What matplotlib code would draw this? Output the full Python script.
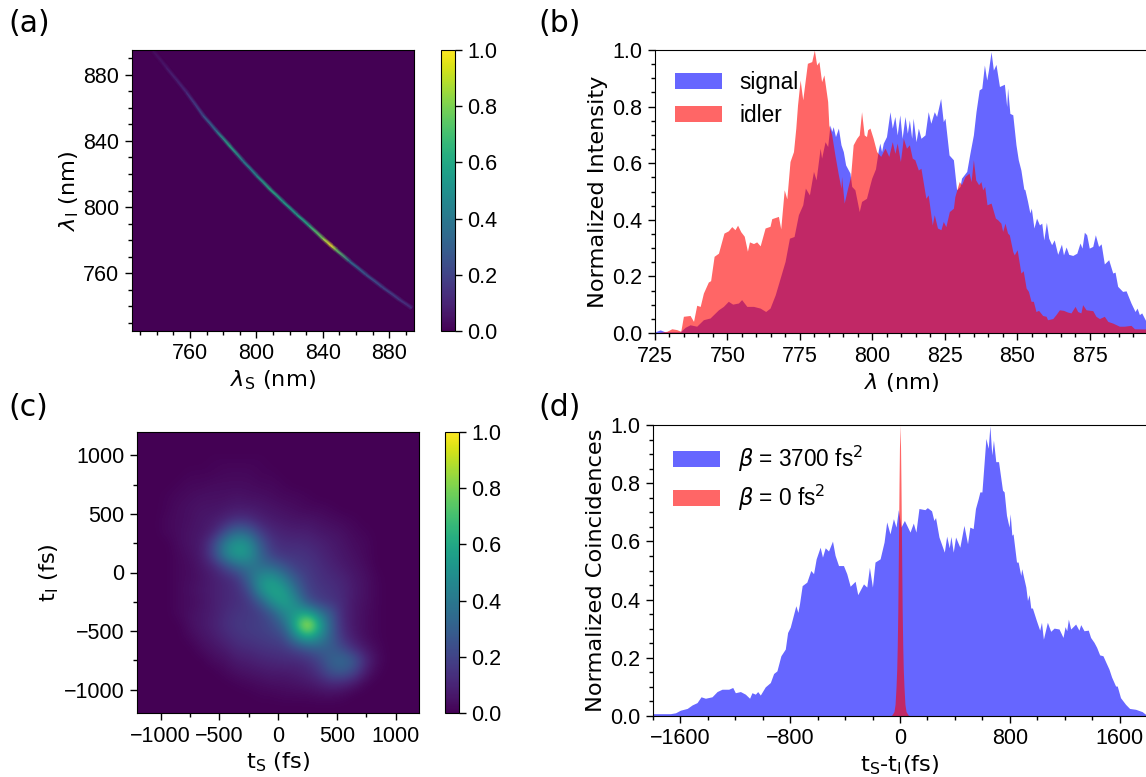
import matplotlib
matplotlib.use("Agg")
import matplotlib.pyplot as plt
import numpy as np
from matplotlib.ticker import MultipleLocator

# (a) joint spectrum ridge
ridge_s = [737.7, 745.7, 757.8, 767.8, 775.9, 783.9, 792.0, 800.0, 808.0, 816.0,
           824.0, 832.0, 840.0, 845.0, 848.0, 856.0, 866.0, 876.0, 886.4, 893.5]
ridge_i = [894.5, 884.5, 869.5, 855.5, 846.0, 837.0, 827.8, 819.2, 811.0, 803.3,
           795.8, 788.6, 781.1, 776.7, 774.1, 767.3, 759.2, 751.5, 743.9, 739.0]
ridge_val = [0.03, 0.07, 0.12, 0.24, 0.38, 0.62, 0.42, 0.48, 0.62, 0.56,
             0.56, 0.62, 0.8, 1.0, 0.78, 0.38, 0.27, 0.22, 0.17, 0.13]

# (b) spectra
signal_nm = [725.0, 726.8, 728.5, 733.7, 735.4, 737.1, 739.4, 741.7, 744.0, 746.9, 748.6, 750.3,
             751.8, 753.8, 754.9, 756.7, 759.0, 761.3, 763.2, 764.7, 766.5, 768.2, 769.9, 771.4,
             773.0, 774.5, 776.0, 776.9, 778.3, 779.7, 780.6, 782.0, 782.5, 783.7, 784.6, 785.4,
             786.0, 786.5, 787.3, 788.3, 789.2, 790.0, 790.8, 792.3, 792.9, 794.0, 795.5, 796.3,
             798.0, 799.2, 799.8, 801.1, 802.1, 802.6, 803.2, 803.8, 804.9, 806.1, 806.9, 807.8,
             808.6, 809.5, 810.3, 811.3, 812.1, 812.8, 813.6, 814.1, 815.1, 815.9, 816.8, 818.2,
             819.3, 820.2, 821.4, 822.2, 823.6, 824.5, 825.1, 826.5, 828.0, 829.1, 830.3, 830.8,
             832.6, 833.7, 834.9, 835.8, 836.9, 837.8, 838.7, 839.5, 840.1, 841.0, 841.8, 842.7,
             843.9, 845.6, 846.4, 846.7, 847.5, 848.5, 849.6, 850.4, 851.3, 852.3, 852.7, 853.6,
             854.4, 854.9, 855.8, 856.7, 857.7, 858.5, 859.2, 860.1, 860.9, 861.9, 862.8, 864.0,
             865.3, 866.0, 866.9, 867.8, 869.2, 870.6, 871.7, 872.4, 873.2, 874.0, 874.9, 876.1,
             877.0, 878.1, 879.0, 880.1, 881.6, 883.0, 883.8, 884.7, 886.4, 887.6, 889.3, 890.7,
             891.4, 892.2, 893.0, 894.5, 895.0]
signal_val = [0.004, 0.011, 0.004, 0.004, 0.02, 0.029, 0.024, 0.047, 0.053, 0.082, 0.094, 0.112,
              0.102, 0.106, 0.118, 0.094, 0.094, 0.088, 0.076, 0.088, 0.135, 0.194, 0.253, 0.335,
              0.341, 0.418, 0.453, 0.512, 0.488, 0.571, 0.541, 0.653, 0.618, 0.676, 0.659, 0.735,
              0.712, 0.729, 0.694, 0.724, 0.665, 0.641, 0.594, 0.565, 0.518, 0.506, 0.429, 0.465,
              0.476, 0.524, 0.547, 0.58, 0.647, 0.671, 0.641, 0.671, 0.694, 0.782, 0.724, 0.765,
              0.7, 0.771, 0.688, 0.765, 0.706, 0.753, 0.688, 0.759, 0.676, 0.724, 0.688, 0.7,
              0.782, 0.741, 0.782, 0.765, 0.829, 0.747, 0.759, 0.629, 0.612, 0.506, 0.518, 0.547,
              0.571, 0.635, 0.7, 0.782, 0.859, 0.865, 0.947, 0.894, 0.929, 0.994, 0.929, 0.949,
              0.871, 0.879, 0.8, 0.865, 0.776, 0.771, 0.665, 0.612, 0.576, 0.509, 0.506, 0.465,
              0.424, 0.441, 0.371, 0.406, 0.382, 0.388, 0.329, 0.391, 0.335, 0.312, 0.329, 0.278,
              0.314, 0.276, 0.304, 0.278, 0.274, 0.282, 0.318, 0.3, 0.356, 0.347, 0.3, 0.306,
              0.347, 0.306, 0.315, 0.244, 0.259, 0.212, 0.215, 0.165, 0.147, 0.149, 0.106, 0.076,
              0.088, 0.065, 0.071, 0.041, 0.038]
idler_nm = [725.0, 729.1, 730.8, 732.5, 733.9, 734.8, 737.1, 738.3, 739.4, 740.6, 741.7, 743.4,
            744.2, 745.4, 746.9, 747.7, 748.8, 750.3, 751.5, 752.6, 753.5, 754.6, 755.8, 756.9,
            757.6, 759.0, 760.1, 761.3, 763.0, 764.7, 765.3, 767.6, 768.4, 769.6, 770.5, 771.6,
            772.8, 773.6, 774.2, 775.1, 776.0, 777.6, 779.1, 780.0, 780.8, 781.6, 782.5, 783.3,
            784.6, 785.0, 786.0, 787.1, 788.3, 789.2, 789.4, 790.3, 791.5, 792.5, 793.4, 794.6,
            795.5, 796.3, 797.2, 798.0, 798.4, 799.2, 800.3, 801.5, 802.9, 804.4, 805.7, 806.9,
            807.8, 808.6, 809.7, 810.7, 811.8, 812.8, 813.8, 814.7, 815.9, 816.8, 818.5, 819.3,
            820.7, 821.4, 822.5, 823.7, 824.5, 825.4, 826.6, 828.0, 828.5, 830.0, 830.8, 832.0,
            833.4, 834.1, 834.9, 835.7, 836.7, 837.5, 838.1, 838.8, 839.6, 841.0, 842.5, 843.3,
            844.4, 845.0, 845.8, 846.7, 847.3, 848.5, 849.0, 850.0, 851.3, 852.1, 853.1, 853.9,
            854.8, 855.6, 856.5, 857.4, 858.8, 860.0, 860.5, 862.3, 863.4, 864.6, 866.0, 867.4,
            868.6, 870.0, 870.9, 872.0, 872.6, 873.8, 876.1, 877.2, 878.4, 880.1, 881.3, 883.0,
            885.3, 887.0, 889.3, 890.5, 895.0]
idler_val = [0.0, 0.006, 0.015, 0.012, 0.006, 0.059, 0.062, 0.041, 0.098, 0.094, 0.141, 0.18,
             0.185, 0.271, 0.282, 0.312, 0.353, 0.361, 0.376, 0.365, 0.381, 0.358, 0.342, 0.289,
             0.322, 0.316, 0.322, 0.308, 0.371, 0.377, 0.404, 0.412, 0.368, 0.506, 0.474, 0.606,
             0.641, 0.724, 0.806, 0.894, 0.824, 0.953, 0.959, 1.0, 0.947, 0.959, 0.888, 0.912,
             0.818, 0.735, 0.7, 0.629, 0.559, 0.512, 0.553, 0.459, 0.512, 0.553, 0.665, 0.688,
             0.7, 0.782, 0.7, 0.694, 0.718, 0.724, 0.688, 0.641, 0.624, 0.653, 0.624, 0.676,
             0.635, 0.671, 0.606, 0.688, 0.653, 0.665, 0.618, 0.612, 0.576, 0.582, 0.476, 0.488,
             0.382, 0.418, 0.371, 0.365, 0.394, 0.376, 0.429, 0.441, 0.482, 0.535, 0.524, 0.553,
             0.565, 0.535, 0.612, 0.541, 0.524, 0.535, 0.506, 0.518, 0.453, 0.459, 0.406, 0.4,
             0.388, 0.359, 0.388, 0.353, 0.347, 0.288, 0.276, 0.294, 0.212, 0.22, 0.159, 0.147,
             0.112, 0.112, 0.076, 0.08, 0.062, 0.059, 0.047, 0.051, 0.065, 0.082, 0.08, 0.074,
             0.071, 0.094, 0.076, 0.071, 0.1, 0.082, 0.079, 0.059, 0.051, 0.059, 0.041, 0.035,
             0.024, 0.024, 0.027, 0.015, 0.014]

# (c) temporal correlation, rows from t_I = 1150 down to -1150 fs, columns t_S = -1150 to 1150
corr_rows = [
    [0] * 24,
    [0] * 24,
    [0, 0, 0, 0, 0, 0, .01, .01, .01, .01, .01, 0, 0, 0, 0, 0, 0, 0, 0, 0, 0, 0, 0, 0],
    [0, 0, 0, 0, .01, .01, .01, .02, .02, .02, .01, .01, 0, 0, 0, 0, 0, 0, 0, 0, 0, 0, 0, 0],
    [0, 0, 0, .01, .02, .02, .03, .03, .03, .03, .02, .02, .01, 0, 0, 0, 0, 0, 0, 0, 0, 0, 0, 0],
    [0, 0, .01, .02, .03, .04, .04, .04, .05, .04, .04, .03, .02, .02, .01, 0, 0, 0, 0, 0, 0, 0, 0, 0],
    [0, 0, .01, .03, .04, .05, .05, .06, .07, .07, .06, .05, .04, .03, .02, .02, .01, 0, 0, 0, 0, 0, 0, 0],
    [0, 0, .02, .03, .04, .06, .07, .1, .14, .13, .09, .07, .06, .05, .05, .04, .03, .02, .01, 0, 0, 0, 0, 0],
    [0, 0, .02, .03, .05, .06, .09, .22, .34, .3, .17, .11, .09, .08, .08, .06, .05, .04, .02, .01, 0, 0, 0, 0],
    [0, 0, 0, .03, .05, .07, .2, .42, .54, .5, .28, .15, .12, .12, .11, .09, .07, .05, .03, .02, 0, 0, 0, 0],
    [0, 0, 0, .02, .04, .07, .2, .44, .56, .52, .33, .19, .15, .15, .14, .11, .08, .06, .04, .02, 0, 0, 0, 0],
    [0, 0, 0, .02, .03, .06, .1, .2, .32, .38, .36, .34, .26, .18, .16, .13, .1, .07, .05, .03, 0, 0, 0, 0],
    [0, 0, 0, .02, .03, .05, .08, .11, .15, .32, .5, .54, .42, .27, .18, .14, .12, .1, .06, .04, .01, 0, 0, 0],
    [0, 0, 0, .02, .04, .06, .08, .11, .13, .22, .5, .6, .56, .36, .2, .16, .14, .11, .07, .04, .01, 0, 0, 0],
    [0, 0, 0, .02, .03, .05, .08, .11, .13, .16, .28, .5, .58, .48, .26, .18, .15, .12, .06, .04, .01, 0, 0, 0],
    [0, 0, 0, .02, .04, .06, .08, .12, .15, .16, .18, .27, .46, .54, .6, .42, .28, .11, .06, .03, .01, 0, 0, 0],
    [0, 0, 0, 0, .04, .06, .09, .13, .16, .17, .19, .22, .32, .62, 1.0, .62, .3, .12, .06, .03, .01, 0, 0, 0],
    [0, 0, 0, 0, .02, .05, .07, .11, .14, .16, .17, .19, .22, .44, .6, .48, .3, .14, .07, .03, .01, 0, 0, 0],
    [0, 0, 0, 0, 0, .03, .05, .07, .11, .12, .14, .15, .16, .2, .26, .3, .29, .22, .12, .06, .02, 0, 0, 0],
    [0, 0, 0, 0, 0, 0, .03, .04, .07, .08, .1, .11, .12, .12, .14, .2, .31, .35, .28, .11, .03, 0, 0, 0],
    [0, 0, 0, 0, 0, 0, 0, .02, .04, .05, .06, .07, .07, .08, .1, .15, .25, .28, .2, .07, .01, 0, 0, 0],
    [0, 0, 0, 0, 0, 0, 0, 0, .01, .02, .03, .04, .04, .05, .06, .08, .11, .1, .06, .01, 0, 0, 0, 0],
    [0, 0, 0, 0, 0, 0, 0, 0, 0, 0, .01, .01, .02, .02, .02, .03, .03, .02, 0, 0, 0, 0, 0, 0],
    [0] * 24,
]

# (d) coincidences against delay
delay_fs = [-1800, -1794, -1673, -1636, -1600, -1551, -1515, -1479, -1450, -1418, -1370, -1333, -1297,
            -1248, -1219, -1200, -1163, -1127, -1096, -1079, -1054, -1037, -1018, -982, -945,
            -921, -897, -868, -836, -819, -800, -759, -744, -732, -713, -679, -650, -630,
            -611, -582, -565, -545, -521, -492, -473, -448, -412, -388, -363, -327, -308,
            -266, -242, -223, -201, -182, -145, -116, -97, -73, -48, -29, -12, 7, 32, 73, 97,
            116, 138, 182, 199, 230, 247, 259, 284, 323, 340, 359, 371, 388, 405, 436, 466,
            492, 509, 533, 550, 570, 582, 597, 626, 643, 655, 669, 681, 698, 718, 747, 759,
            776, 795, 803, 815, 824, 849, 861, 880, 887, 917, 929, 941, 953, 965, 994, 1018,
            1031, 1045, 1074, 1098, 1123, 1159, 1188, 1203, 1215, 1227, 1244, 1280, 1304,
            1317, 1341, 1372, 1389, 1414, 1433, 1455, 1479, 1498, 1523, 1542, 1571, 1583,
            1607, 1644, 1673, 1717, 1765, 1789, 1800]
chirped_val = [0.008, 0.008, 0.008, 0.011, 0.02, 0.026, 0.038, 0.046, 0.066, 0.061, 0.066, 0.084, 0.092,
               0.092, 0.098, 0.08, 0.084, 0.075, 0.061, 0.08, 0.075, 0.084, 0.072, 0.1, 0.115,
               0.146, 0.155, 0.207, 0.23, 0.287, 0.305, 0.379, 0.356, 0.387, 0.448, 0.46, 0.5, 0.489,
               0.54, 0.58, 0.546, 0.578, 0.567, 0.601, 0.552, 0.517, 0.517, 0.489, 0.446, 0.463, 0.417,
               0.454, 0.443, 0.511, 0.443, 0.529, 0.54, 0.598, 0.667, 0.626, 0.678, 0.649, 0.709, 0.649, 0.672, 0.632, 0.663,
               0.632, 0.713, 0.709, 0.716, 0.705, 0.672, 0.682, 0.615, 0.563, 0.618, 0.578, 0.617, 0.563, 0.615, 0.58, 0.655,
               0.592, 0.649, 0.644, 0.713, 0.747, 0.77, 0.77, 0.954, 0.92, 0.997, 0.897, 0.948, 0.874, 0.874, 0.776, 0.77,
               0.69, 0.649, 0.695, 0.621, 0.626, 0.529, 0.529, 0.483, 0.506, 0.443, 0.397, 0.417, 0.371, 0.371, 0.328, 0.295,
               0.322, 0.264, 0.322, 0.291, 0.302, 0.299, 0.27, 0.307, 0.293, 0.333, 0.299, 0.316, 0.295,
               0.314, 0.293, 0.295, 0.27, 0.253, 0.236, 0.21, 0.207, 0.187, 0.161, 0.134, 0.103, 0.103,
               0.063, 0.04, 0.026, 0.023, 0.015, 0.006, 0.006]
peak_fs = [-73, -60, -44, -36, -29, -24, -20, -16, -13, -10, -7, -4, 0, 4, 7, 10, 13, 16, 20, 24, 29, 36, 44, 60, 73]
peak_val = [0, .003, .015, .04, .1, .16, .24, .36, .5, .65, .8, .92, 1.0, .92, .8, .65, .5, .36, .24, .16, .1, .04, .015, .003, 0]

FIG_W, FIG_H = 1146, 777
TICK_FONT = "Liberation Sans"
LABEL_SIZE = 16.2
TICK_SIZE = 15.5
LEGEND_SIZE = 16.3


def place(left, top, right, bottom):
    # pixel box to figure fractions
    return [left / FIG_W, 1 - bottom / FIG_H, (right - left) / FIG_W, (bottom - top) / FIG_H]


def style_ticks(ax):
    ax.tick_params(which="major", labelsize=TICK_SIZE, length=5, width=1, pad=4)
    ax.tick_params(which="minor", length=3, width=1)
    for lab in ax.get_xticklabels() + ax.get_yticklabels():
        lab.set_fontfamily(TICK_FONT)


def add_cbar(fig, mappable, box):
    cax = fig.add_axes(place(*box))
    cb = fig.colorbar(mappable, cax=cax)
    cb.set_ticks([0, 0.2, 0.4, 0.6, 0.8, 1.0])
    cax.tick_params(labelsize=TICK_SIZE, length=5, width=1, pad=4)
    for lab in cax.get_yticklabels():
        lab.set_fontfamily(TICK_FONT)


def add_legend(ax, anchor, spacing):
    leg = ax.legend(loc="upper left", bbox_to_anchor=anchor, frameon=False, borderpad=0, borderaxespad=0,
                    handlelength=2.05, handleheight=0.7, handletextpad=0.8, labelspacing=spacing,
                    prop={"family": TICK_FONT, "size": LEGEND_SIZE})
    return leg


fig = plt.figure(figsize=(FIG_W / 100, FIG_H / 100), dpi=100, facecolor="white")
cmap = plt.get_cmap("viridis")

# panel a
ax_a = fig.add_axes(place(132, 50, 414, 331))
ax_a.set_facecolor(cmap(0.0))
s = np.array(ridge_s)
i = np.array(ridge_i)
v = np.array(ridge_val)
half = 1.1
mesh_x = np.column_stack([s - half, s, s + half])
mesh_y = np.column_stack([i - half, i, i + half])
mesh_c = np.column_stack([np.zeros_like(v), v, np.zeros_like(v)])
ridge_mesh = ax_a.pcolormesh(mesh_x, mesh_y, mesh_c, shading="gouraud", cmap=cmap, vmin=0, vmax=1)
ax_a.set_xlim(725, 895)
ax_a.set_ylim(725, 895)
ax_a.set_xticks([760, 800, 840, 880])
ax_a.set_yticks([760, 800, 840, 880])
ax_a.xaxis.set_minor_locator(MultipleLocator(10))
ax_a.yaxis.set_minor_locator(MultipleLocator(10))
ax_a.set_xlabel(r"$\lambda_{\mathrm{S}}$ (nm)", fontsize=LABEL_SIZE, labelpad=3)
ax_a.set_ylabel(r"$\lambda_{\mathrm{I}}$ (nm)", fontsize=LABEL_SIZE, labelpad=2)
style_ticks(ax_a)
add_cbar(fig, ridge_mesh, (441, 50, 455, 331))

# panel b
ax_b = fig.add_axes(place(655, 50, 1147.5, 333))
ax_b.fill_between(signal_nm, signal_val, color=(0, 0, 1), alpha=0.6, lw=0, label="signal")
ax_b.fill_between(idler_nm, idler_val, color=(1, 0, 0), alpha=0.6, lw=0, label="idler")
ax_b.set_xlim(725, 895)
ax_b.set_ylim(0, 1)
ax_b.xaxis.set_major_locator(MultipleLocator(25))
ax_b.xaxis.set_minor_locator(MultipleLocator(5))
ax_b.yaxis.set_major_locator(MultipleLocator(0.2))
ax_b.yaxis.set_minor_locator(MultipleLocator(0.05))
ax_b.set_xlabel(r"$\lambda$ (nm)", fontsize=LABEL_SIZE, labelpad=3)
ax_b.set_ylabel("Normalized Intensity", fontsize=LABEL_SIZE, labelpad=3)
style_ticks(ax_b)
add_legend(ax_b, (0.041, 0.925), 0.44)

# panel c
ax_c = fig.add_axes(place(137, 432, 419, 713))
corr_img = ax_c.imshow(np.array(corr_rows), extent=[-1200, 1200, -1200, 1200], cmap=cmap,
                       vmin=0, vmax=1, interpolation="bicubic", aspect="auto")
ax_c.set_xticks([-1000, -500, 0, 500, 1000])
ax_c.set_yticks([-1000, -500, 0, 500, 1000])
ax_c.xaxis.set_minor_locator(MultipleLocator(250))
ax_c.yaxis.set_minor_locator(MultipleLocator(250))
ax_c.set_xlabel(r"t$_{\mathrm{S}}$ (fs)", fontsize=LABEL_SIZE, labelpad=3)
ax_c.set_ylabel(r"t$_{\mathrm{I}}$ (fs)", fontsize=LABEL_SIZE, labelpad=2)
style_ticks(ax_c)
add_cbar(fig, corr_img, (445, 432, 459, 713))

# panel d
ax_d = fig.add_axes(place(653, 425, 1147, 716))
ax_d.fill_between(delay_fs, chirped_val, color=(0, 0, 1), alpha=0.6, lw=0, label=r"$\beta$ = 3700 fs$^2$")
ax_d.fill_between(peak_fs, peak_val, color=(1, 0, 0), alpha=0.6, lw=0, label=r"$\beta$ = 0 fs$^2$")
ax_d.set_xlim(-1800, 1800)
ax_d.set_ylim(0, 1)
ax_d.xaxis.set_major_locator(MultipleLocator(800))
ax_d.xaxis.set_minor_locator(MultipleLocator(200))
ax_d.yaxis.set_major_locator(MultipleLocator(0.2))
ax_d.yaxis.set_minor_locator(MultipleLocator(0.05))
ax_d.set_xlabel(r"t$_{\mathrm{S}}$-t$_{\mathrm{I}}$(fs)", fontsize=LABEL_SIZE, labelpad=3)
ax_d.set_ylabel("Normalized Coincidences", fontsize=LABEL_SIZE, labelpad=3)
style_ticks(ax_d)
add_legend(ax_d, (0.041, 0.934), 0.36)

for letter, x_px, y_px in [("(a)", 8, 23), ("(b)", 538, 23), ("(c)", 8, 407), ("(d)", 538, 407)]:
    fig.text(x_px / FIG_W, 1 - y_px / FIG_H, letter, fontsize=21.5, va="center", ha="left")

fig.savefig("out.png", dpi=100)
